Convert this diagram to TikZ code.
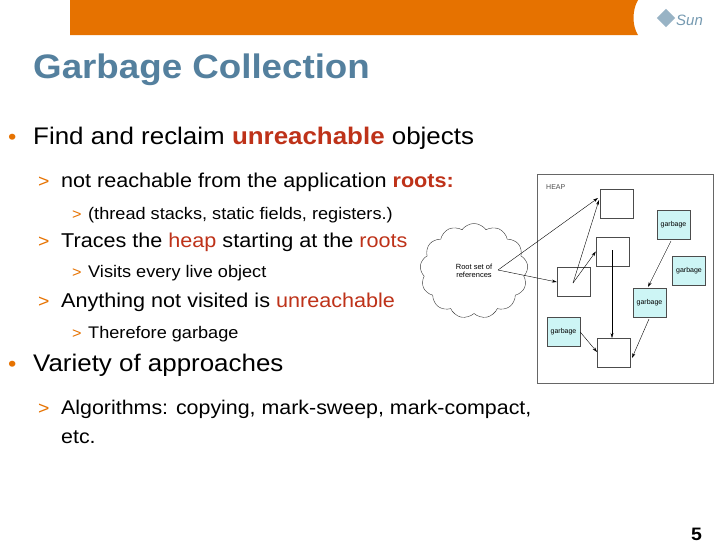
\documentclass[tikz,border=0pt]{standalone}
\usepackage{fontspec}
\setmainfont[FakeStretch=1.08]{Liberation Sans}
\newfontfamily\plainsans{Liberation Sans}
\usetikzlibrary{shapes.symbols,arrows.meta}
\definecolor{org}{RGB}{230,114,0}
\definecolor{ttl}{RGB}{84,128,158}
\definecolor{rd}{RGB}{190,50,25}
\definecolor{cy}{RGB}{205,245,245}
\begin{document}
\begin{tikzpicture}[x=1pt,y=-1pt,
  txt/.style={anchor=base west,inner sep=0},
  obj/.style={draw=black!70,fill=white,minimum width=33pt,minimum height=29pt,inner sep=0},
  gb/.style={obj,fill=cy,font=\plainsans\fontsize{7}{8}\selectfont},
  arr/.style={-{Stealth[length=5pt,width=3pt]},thin}]
\useasboundingbox (0,0) rectangle (728,546);
\fill[white] (0,0) rectangle (728,546);
\fill[org] (70,0) -- (638,0) .. controls (632,10) and (632,26) .. (638,35) -- (70,35) -- cycle;
\node[txt,font=\plainsans\fontsize{15}{15}\selectfont\itshape,text=ttl!80] (sun) at (676,25) {Sun};
\node[fill=ttl!60,rotate=45,minimum size=13pt,inner sep=0] (logo) at (666,18) {};
\node[txt,font=\fontsize{34}{34}\selectfont\bfseries,text=ttl] (title) at (33,78) {Garbage Collection};
\node[txt,font=\fontsize{22}{22}\selectfont,text=org] (b1) at (8,144) {•};
\node[txt,font=\fontsize{24}{24}\selectfont] (l1) at (33,144) {Find and reclaim \textcolor{rd}{\textbf{unreachable}} objects};
\node[txt,font=\fontsize{18}{18}\selectfont,text=org] (a1) at (38,187) {>};
\node[txt,font=\fontsize{20}{18}\selectfont] (l2) at (61,187) {not reachable from the application \textcolor{rd}{\textbf{roots:}}};
\node[txt,font=\fontsize{15}{15}\selectfont,text=org] (a2) at (72,219) {>};
\node[txt,font=\fontsize{16.8}{15}\selectfont] (l3) at (88,219) {(thread stacks, static fields, registers.)};
\node[txt,font=\fontsize{18}{18}\selectfont,text=org] (a3) at (38,247) {>};
\node[txt,font=\fontsize{20}{18}\selectfont] (l4) at (61,247) {Traces the \textcolor{rd}{heap} starting at the \textcolor{rd}{roots}};
\node[txt,font=\fontsize{15}{15}\selectfont,text=org] (a4) at (72,277) {>};
\node[txt,font=\fontsize{16.8}{15}\selectfont] (l5) at (88,277) {Visits every live object};
\node[txt,font=\fontsize{18}{18}\selectfont,text=org] (a5) at (38,307) {>};
\node[txt,font=\fontsize{20}{18}\selectfont] (l6) at (61,307) {Anything not visited is \textcolor{rd}{unreachable}};
\node[txt,font=\fontsize{15}{15}\selectfont,text=org] (a6) at (72,338) {>};
\node[txt,font=\fontsize{16.8}{15}\selectfont] (l7) at (88,338) {Therefore garbage};
\node[txt,font=\fontsize{22}{22}\selectfont,text=org] (b2) at (8,371) {•};
\node[txt,font=\fontsize{24}{24}\selectfont] (l8) at (33,371) {Variety of approaches};
\node[txt,font=\fontsize{18}{18}\selectfont,text=org] (a7) at (38,414) {>};
\node[txt,font=\fontsize{19.8}{18}\selectfont] (l9) at (61,414) {Algorithms: copying, mark-sweep, mark-compact,};
\node[txt,font=\fontsize{19.8}{18}\selectfont] (l10) at (61,443) {etc.};
\node[txt,font=\fontsize{18}{18}\selectfont\bfseries] (pg) at (691,540) {5};
% diagram
\draw[black!60,fill=white] (537,174) rectangle (713,383);
\node[txt,font=\plainsans\fontsize{7}{7}\selectfont,text=black!70] (heap) at (546,189) {HEAP};
\node[obj] (A) at (617,203.5) {};
\node[obj] (B) at (612.5,251.5) {};
\node[obj] (C) at (573.5,282) {};
\node[obj] (D) at (614,353) {};
\node[gb] (g1) at (673.5,225) {garbage};
\node[gb] (g2) at (689,271) {garbage};
\node[gb] (g3) at (649.5,303) {garbage};
\node[gb] (g4) at (563.5,332) {garbage};
\node[cloud,draw=black!80,fill=white,cloud puffs=13,cloud puff arc=110,aspect=1.2,minimum width=108pt,minimum height=95pt,inner sep=0,align=center,font=\plainsans\fontsize{7.5}{8}\selectfont] (cl) at (474,271) {Root set of\\references};
\coordinate (r) at (498,270);
\coordinate (ci) at (573,283);
\coordinate (bi) at (612,250);
\draw[arr] (r) -- (598,198);
\draw[arr] (r) -- (C.west);
\draw[arr] (ci) -- (599,200);
\draw[arr] (ci) -- (B.west);
\draw[arr] (bi) -- (612,338);
\draw[arr] (671,241) -- (648,287);
\draw[arr] (649,319) -- (632,358);
\draw[arr] (g4.east) -- (597,352);
\end{tikzpicture}
\end{document}
